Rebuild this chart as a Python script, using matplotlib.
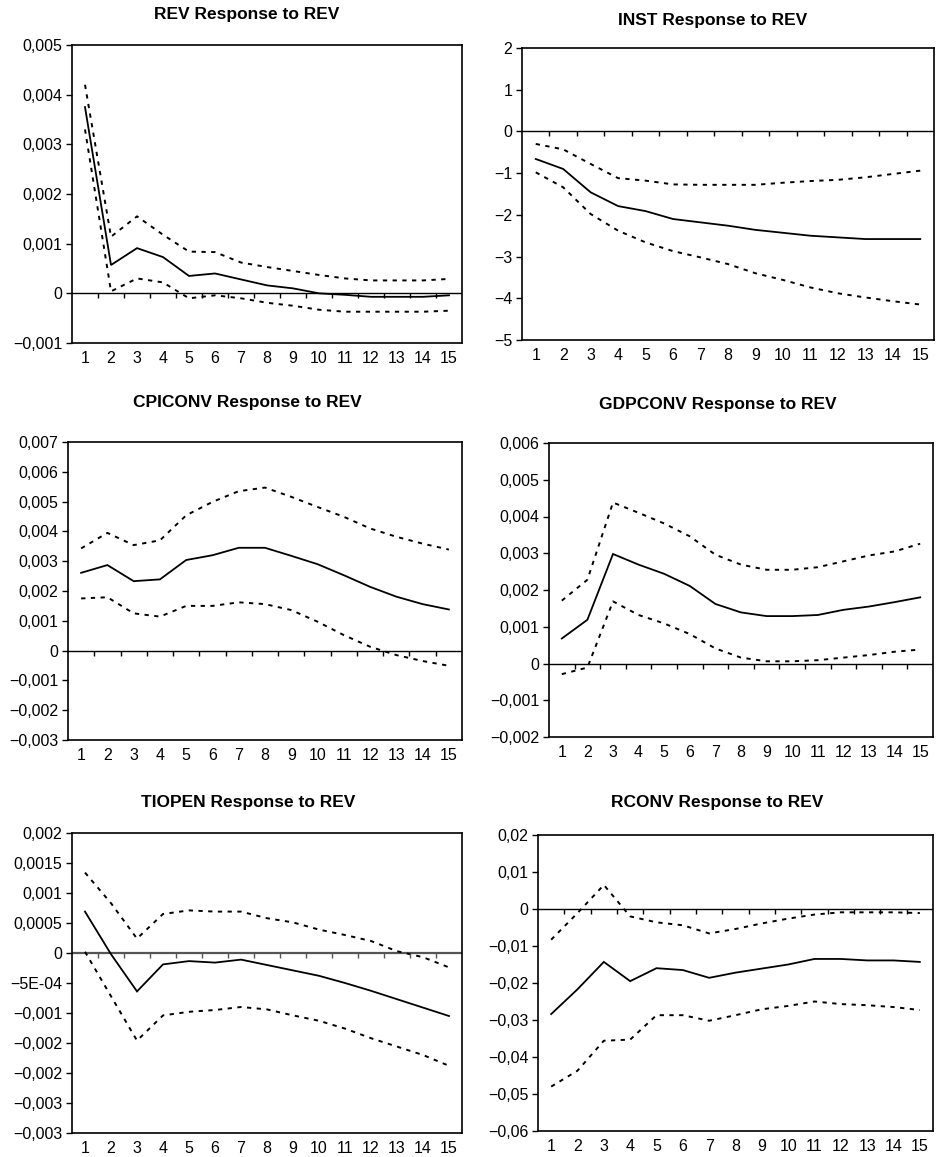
import matplotlib
matplotlib.use("Agg")
import matplotlib.pyplot as plt
import numpy as np

plt.rcParams['font.family'] = ['Liberation Sans', 'DejaVu Sans']

periods = list(range(1, 16))
xlabels = [str(p) for p in periods]

titles = ["REV Response to REV", "INST Response to REV",
          "CPICONV Response to REV", "GDPCONV Response to REV",
          "TIOPEN Response to REV", "RCONV Response to REV"]

# Panel 1: REV
rev_mid = [0.00375, 0.00057, 0.00091, 0.00073, 0.00035, 0.00040, 0.00028, 0.00016,
           0.00010, 0.00000, -0.00003, -0.00007, -0.00007, -0.00007, -0.00004]
rev_up = [0.00420, 0.00114, 0.00155, 0.00118, 0.00084, 0.00083, 0.00062, 0.00053,
          0.00045, 0.00037, 0.00030, 0.00026, 0.00026, 0.00026, 0.00029]
rev_lo = [0.00330, 0.00004, 0.00030, 0.00022, -0.00010, -0.00004, -0.00010, -0.00019,
          -0.00025, -0.00033, -0.00037, -0.00037, -0.00037, -0.00037, -0.00035]
rev_yticks = [-0.001, 0, 0.001, 0.002, 0.003, 0.004, 0.005]
rev_ylabels = ["\u22120,001", "0", "0,001", "0,002", "0,003", "0,004", "0,005"]

# Panel 2: INST
inst_mid = [-0.66, -0.90, -1.46, -1.79, -1.91, -2.10, -2.18, -2.26, -2.36, -2.43,
            -2.50, -2.54, -2.58, -2.58, -2.58]
inst_up = [-0.30, -0.43, -0.78, -1.12, -1.18, -1.27, -1.28, -1.28, -1.28, -1.23,
           -1.19, -1.16, -1.10, -1.02, -0.94]
inst_lo = [-0.98, -1.34, -1.98, -2.38, -2.66, -2.87, -3.02, -3.18, -3.40, -3.56,
           -3.74, -3.88, -3.98, -4.07, -4.15]
inst_yticks = [-5, -4, -3, -2, -1, 0, 1, 2]
inst_ylabels = ["\u22125", "\u22124", "\u22123", "\u22122", "\u22121", "0", "1", "2"]

# Panel 3: CPICONV
cpi_mid = [0.00261, 0.00287, 0.00233, 0.00239, 0.00304, 0.00320, 0.00345, 0.00345,
           0.00318, 0.00290, 0.00253, 0.00214, 0.00181, 0.00156, 0.00138]
cpi_up = [0.00343, 0.00395, 0.00354, 0.00370, 0.00454, 0.00499, 0.00535, 0.00547,
          0.00516, 0.00482, 0.00449, 0.00410, 0.00382, 0.00359, 0.00339]
cpi_lo = [0.00175, 0.00179, 0.00125, 0.00114, 0.00150, 0.00150, 0.00162, 0.00156,
          0.00136, 0.00097, 0.00052, 0.00013, -0.00015, -0.00035, -0.00051]
cpi_yticks = [-0.003, -0.002, -0.001, 0, 0.001, 0.002, 0.003, 0.004, 0.005, 0.006, 0.007]
cpi_ylabels = ["\u22120,003", "\u22120,002", "\u22120,001", "0", "0,001", "0,002",
               "0,003", "0,004", "0,005", "0,006", "0,007"]

# Panel 4: GDPCONV
gdp_mid = [0.00068, 0.00119, 0.00298, 0.00269, 0.00244, 0.00211, 0.00162, 0.00139,
           0.00129, 0.00129, 0.00132, 0.00146, 0.00155, 0.00167, 0.00180]
gdp_up = [0.00171, 0.00228, 0.00438, 0.00410, 0.00381, 0.00346, 0.00296, 0.00269,
          0.00255, 0.00255, 0.00262, 0.00278, 0.00294, 0.00305, 0.00326]
gdp_lo = [-0.00029, -0.00011, 0.00169, 0.00132, 0.00109, 0.00080, 0.00041, 0.00016,
          0.00006, 0.00006, 0.00009, 0.00016, 0.00023, 0.00032, 0.00038]
gdp_yticks = [-0.002, -0.001, 0, 0.001, 0.002, 0.003, 0.004, 0.005, 0.006]
gdp_ylabels = ["\u22120,002", "\u22120,001", "0", "0,001", "0,002", "0,003",
               "0,004", "0,005", "0,006"]

# Panel 5: TIOPEN
tio_mid = [0.00069, -0.00002, -0.00064, -0.00019, -0.000135, -0.00016, -0.00011, -0.00020,
           -0.00029, -0.00038, -0.00050, -0.00063, -0.00077, -0.00091, -0.00105]
tio_up = [0.00134, 0.00083, 0.00024, 0.00065, 0.00071, 0.00069, 0.00069, 0.00058,
          0.00051, 0.00039, 0.00030, 0.00020, 0.00003, -0.00007, -0.00024]
tio_lo = [0.00002, -0.00072, -0.00146, -0.00104, -0.00098, -0.00095, -0.00090, -0.00094,
          -0.00104, -0.00113, -0.00126, -0.00142, -0.00156, -0.00170, -0.00188]
tio_yticks = [-0.003, -0.0025, -0.002, -0.0015, -0.001, -0.0005, 0, 0.0005, 0.001, 0.0015, 0.002]
tio_ylabels = ["\u22120,003", "\u22120,003", "\u22120,002", "\u22120,002", "\u22120,001",
               "\u22125E-04", "0", "0,0005", "0,001", "0,0015", "0,002"]

# Panel 6: RCONV
rc_mid = [-0.0284, -0.0217, -0.0143, -0.0195, -0.0160, -0.0165, -0.0186, -0.0172,
          -0.0161, -0.0150, -0.0135, -0.0135, -0.0139, -0.0139, -0.0143]
rc_up = [-0.0083, -0.0011, 0.0065, -0.0020, -0.0036, -0.0044, -0.0066, -0.0054,
         -0.0039, -0.0026, -0.0015, -0.0009, -0.0009, -0.0009, -0.0011]
rc_lo = [-0.0480, -0.0437, -0.0356, -0.0353, -0.0287, -0.0287, -0.0302, -0.0287,
         -0.0271, -0.0262, -0.0250, -0.0257, -0.0260, -0.0265, -0.0273]
rc_yticks = [-0.06, -0.05, -0.04, -0.03, -0.02, -0.01, 0, 0.01, 0.02]
rc_ylabels = ["\u22120,06", "\u22120,05", "\u22120,04", "\u22120,03", "\u22120,02",
              "\u22120,01", "0", "0,01", "0,02"]

panels = [
    (rev_mid, rev_up, rev_lo, rev_yticks, rev_ylabels),
    (inst_mid, inst_up, inst_lo, inst_yticks, inst_ylabels),
    (cpi_mid, cpi_up, cpi_lo, cpi_yticks, cpi_ylabels),
    (gdp_mid, gdp_up, gdp_lo, gdp_yticks, gdp_ylabels),
    (tio_mid, tio_up, tio_lo, tio_yticks, tio_ylabels),
    (rc_mid, rc_up, rc_lo, rc_yticks, rc_ylabels),
]

W, H = 937, 1157
# axes boxes in pixels: left, top, right, bottom
boxes = [(72, 45, 462, 343), (522, 48, 934, 340),
         (68, 442, 462, 740), (549, 443, 933, 737),
         (72, 833, 462, 1133), (538, 835, 933, 1131)]
title_pos = [(247, 15), (713, 20), (247, 403), (718, 405), (248, 802), (717, 802)]
zero_colors = ['black', 'black', 'black', 'black', '#555555', 'black']

fig = plt.figure(figsize=(W / 100, H / 100), dpi=100)

for i, (mid, up, lo, yt, yl) in enumerate(panels):
    l, t, r, b = boxes[i]
    ax = fig.add_axes([l / W, 1 - b / H, (r - l) / W, (b - t) / H])
    ax.set_xlim(0.5, 15.5)
    ax.set_ylim(yt[0], yt[-1])
    ax.plot(periods, mid, color='black', lw=1.3, solid_joinstyle='miter')
    ax.plot(periods, up, color='black', lw=1.4, dashes=(2.2, 2.8))
    ax.plot(periods, lo, color='black', lw=1.4, dashes=(2.2, 2.8))
    ax.axhline(0, color=zero_colors[i], lw=1.0 if i != 4 else 1.6, zorder=1)
    ax.set_yticks(yt)
    ax.set_yticklabels(yl)
    ax.set_xticks(periods)
    ax.set_xticklabels(xlabels)
    ax.tick_params(axis='x', length=0, pad=6, labelsize=11.5)
    ax.tick_params(axis='y', direction='out', length=4, width=1, pad=3, labelsize=11.5)
    for s in ax.spines.values():
        s.set_linewidth(1.2)
    # ticks on the zero line at category boundaries
    ax2 = ax.twiny()
    ax2.set_xlim(ax.get_xlim())
    for s in ['top', 'left', 'right']:
        ax2.spines[s].set_visible(False)
    ax2.spines['bottom'].set_position(('data', 0))
    ax2.spines['bottom'].set_visible(False)
    ax2.xaxis.set_ticks_position('bottom')
    ax2.set_xticks(np.arange(1.5, 15.0, 1.0))
    ax2.tick_params(axis='x', direction='out', length=3.5, width=1, labelbottom=False,
                    labeltop=False, color=zero_colors[i])
    tx, ty = title_pos[i]
    fig.text(tx / W, 1 - ty / H, titles[i], ha='center', va='center',
             fontsize=12.5, fontweight='bold')

fig.savefig('out.png', dpi=100)
